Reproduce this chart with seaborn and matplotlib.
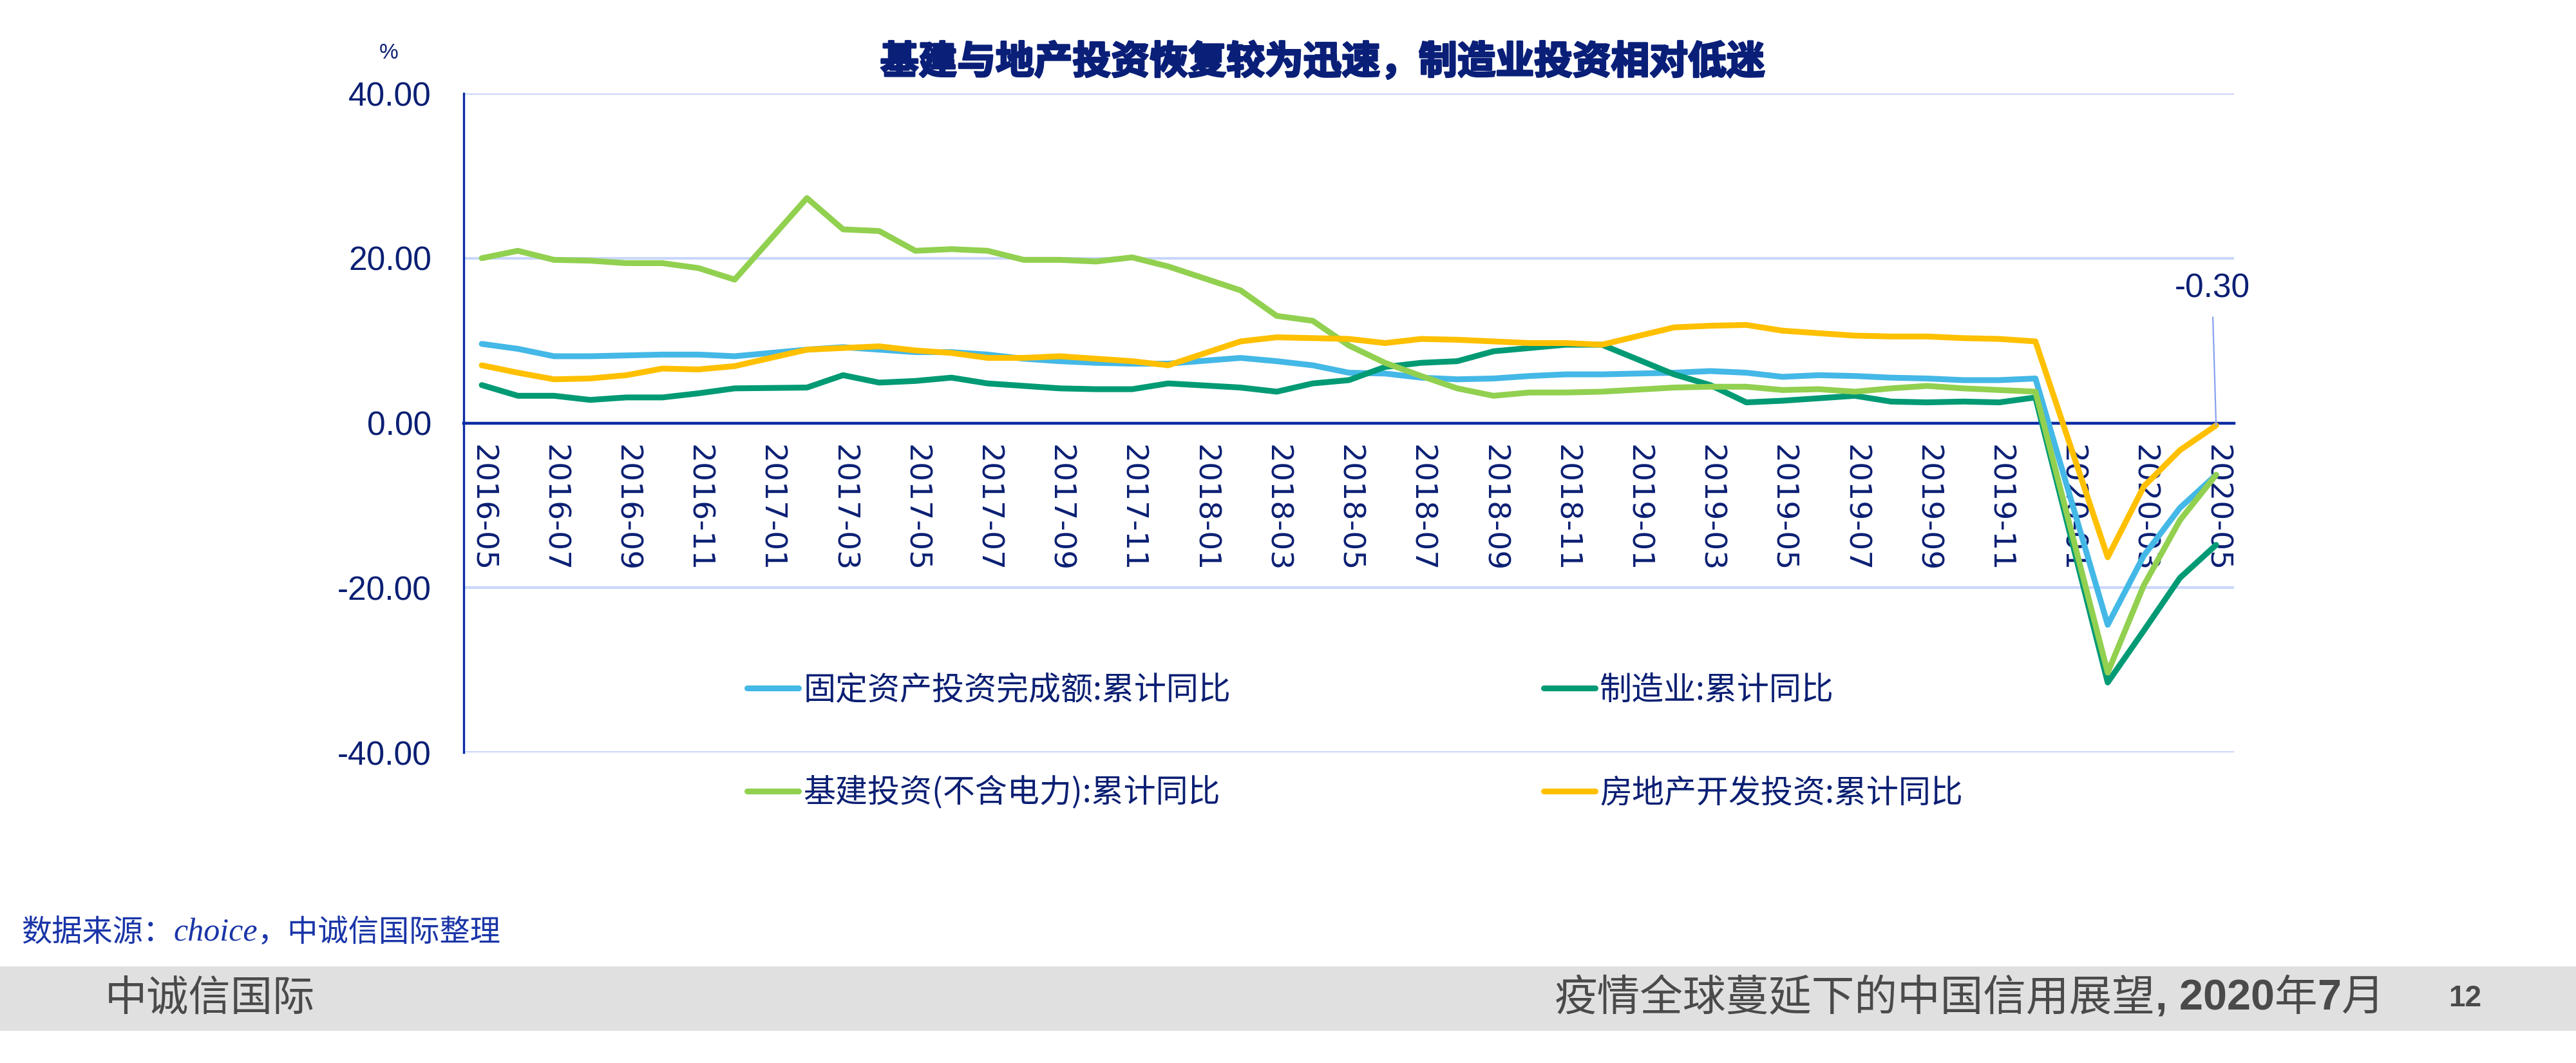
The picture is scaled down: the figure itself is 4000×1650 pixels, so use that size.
import numpy as np
import pandas as pd
import matplotlib
matplotlib.use("Agg")
import matplotlib.pyplot as plt
import matplotlib.patheffects as pe
from matplotlib.lines import Line2D
from matplotlib.patches import Rectangle
from matplotlib.ticker import FixedLocator, FormatStrFormatter
import seaborn as sns

# monthly cumulative YoY (%), January not published
months = ["2016-05", "2016-06", "2016-07", "2016-08", "2016-09", "2016-10", "2016-11", "2016-12",
          "2017-02", "2017-03", "2017-04", "2017-05", "2017-06", "2017-07", "2017-08", "2017-09",
          "2017-10", "2017-11", "2017-12",
          "2018-02", "2018-03", "2018-04", "2018-05", "2018-06", "2018-07", "2018-08", "2018-09",
          "2018-10", "2018-11", "2018-12",
          "2019-02", "2019-03", "2019-04", "2019-05", "2019-06", "2019-07", "2019-08", "2019-09",
          "2019-10", "2019-11", "2019-12",
          "2020-02", "2020-03", "2020-04", "2020-05"]

fai = [9.6, 9.0, 8.1, 8.1, 8.2, 8.3, 8.3, 8.1,
       8.9, 9.2, 8.9, 8.6, 8.6, 8.3, 7.8, 7.5, 7.3, 7.2, 7.2,
       7.9, 7.5, 7.0, 6.1, 6.0, 5.5, 5.3, 5.4, 5.7, 5.9, 5.9,
       6.1, 6.3, 6.1, 5.6, 5.8, 5.7, 5.5, 5.4, 5.2, 5.2, 5.4,
       -24.5, -16.1, -10.3, -6.3]
manufacturing = [4.6, 3.3, 3.3, 2.8, 3.1, 3.1, 3.6, 4.2,
                 4.3, 5.8, 4.9, 5.1, 5.5, 4.8, 4.5, 4.2, 4.1, 4.1, 4.8,
                 4.3, 3.8, 4.8, 5.2, 6.8, 7.3, 7.5, 8.7, 9.1, 9.5, 9.5,
                 5.9, 4.6, 2.5, 2.7, 3.0, 3.3, 2.6, 2.5, 2.6, 2.5, 3.1,
                 -31.5, -25.2, -18.8, -14.8]
infrastructure = [20.0, 20.9, 19.8, 19.7, 19.4, 19.4, 18.8, 17.4,
                  27.3, 23.5, 23.3, 20.9, 21.1, 20.9, 19.8, 19.8, 19.6, 20.1, 19.0,
                  16.1, 13.0, 12.4, 9.4, 7.3, 5.7, 4.2, 3.3, 3.7, 3.7, 3.8,
                  4.3, 4.4, 4.4, 4.0, 4.1, 3.8, 4.2, 4.5, 4.2, 4.0, 3.8,
                  -30.3, -19.7, -11.8, -6.3]
real_estate = [7.0, 6.1, 5.3, 5.4, 5.8, 6.6, 6.5, 6.9,
               8.9, 9.1, 9.3, 8.8, 8.5, 7.9, 7.9, 8.1, 7.8, 7.5, 7.0,
               9.9, 10.4, 10.3, 10.2, 9.7, 10.2, 10.1, 9.9, 9.7, 9.7, 9.5,
               11.6, 11.8, 11.9, 11.2, 10.9, 10.6, 10.5, 10.5, 10.3, 10.2, 9.9,
               -16.3, -7.7, -3.3, -0.3]

series_names = ["固定资产投资完成额:累计同比", "制造业:累计同比",
                "基建投资(不含电力):累计同比", "房地产开发投资:累计同比"]
series_colors = ["#44b8e6", "#009a74", "#92d050", "#ffc000"]

tick_labels = ["2016-05", "2016-07", "2016-09", "2016-11", "2017-01", "2017-03", "2017-05",
               "2017-07", "2017-09", "2017-11", "2018-01", "2018-03", "2018-05", "2018-07",
               "2018-09", "2018-11", "2019-01", "2019-03", "2019-05", "2019-07", "2019-09",
               "2019-11", "2020-01", "2020-03", "2020-05"]
ytick_values = [-40, -20, 0, 20, 40]

title = "基建与地产投资恢复较为迅速，制造业投资相对低迷"
source_parts = ["数据来源：", "choice", "，中诚信国际整理"]
footer_left = "中诚信国际"
footer_parts = ["疫情全球蔓延下的中国信用展望", ", 2020", "年", "7", "月"]
page_no = "12"

NAVY = "#0b1f73"
AXIS_BLUE = "#0a2ba3"
GRID = "#cad7fb"
FOOT_GRAY = "#4a4a4a"
LATIN = ["Liberation Sans", "DejaVu Sans"]


def month_pos(m):
    return (pd.Period(m, freq="M") - pd.Period(months[0], freq="M")).n


def make_frame():
    pos = [month_pos(m) for m in months]
    frames = []
    for name, vals in zip(series_names, [fai, manufacturing, infrastructure, real_estate]):
        frames.append(pd.DataFrame({"pos": pos, "value": vals, "series": name}))
    return pd.concat(frames, ignore_index=True)


def chain(ax, prev, pieces):
    # place each piece right after the previous text
    for s, kw in pieces:
        prev = ax.annotate(s, xy=(1, 0.5), xycoords=prev, ha="left", va="center",
                           annotation_clip=False, **kw)
    return prev


def main():
    df = make_frame()

    sns.set_style("white")
    plt.rcParams["font.family"] = ["Noto Sans CJK SC", "DejaVu Sans"]
    plt.rcParams["axes.unicode_minus"] = False

    fig = plt.figure(figsize=(40, 16.5), dpi=100)
    ax = fig.add_axes([0.18, 0.2921, 0.6873, 0.62])

    sns.lineplot(data=df, x="pos", y="value", hue="series", hue_order=series_names,
                 palette=series_colors, linewidth=6.5, estimator=None, legend=False, ax=ax)
    for line in ax.lines:
        line.set_zorder(3)
        line.set_solid_joinstyle("round")
        line.set_solid_capstyle("round")

    n_cat = month_pos(months[-1]) + 1
    ax.set_xlim(-0.5, n_cat - 0.5)
    ax.set_ylim(-40, 40)
    ax.set_xlabel("")
    ax.set_ylabel("")

    # y axis
    ax.set_yticks(ytick_values)
    ax.yaxis.set_major_formatter(FormatStrFormatter("%.2f"))
    ax.tick_params(axis="y", direction="out", length=12, width=2.4, color=AXIS_BLUE,
                   pad=24, labelsize=37, labelcolor=NAVY)
    for lab in ax.get_yticklabels():
        lab.set_family(LATIN)
    ax.yaxis.grid(True, color=GRID, linewidth=3.0)
    ax.xaxis.grid(False)
    ax.set_axisbelow(True)

    # category axis crossing at zero
    ax.spines["bottom"].set_position(("data", 0))
    ax.spines["bottom"].set_color(AXIS_BLUE)
    ax.spines["bottom"].set_linewidth(3.2)
    ax.spines["left"].set_color(AXIS_BLUE)
    ax.spines["left"].set_linewidth(2.4)
    ax.spines["top"].set_visible(False)
    ax.spines["right"].set_visible(False)

    ax.xaxis.set_major_locator(FixedLocator([month_pos(t) for t in tick_labels]))
    ax.set_xticklabels(tick_labels, rotation=-90, family="DejaVu Sans")
    ax.xaxis.set_minor_locator(FixedLocator(np.arange(1.5, n_cat - 1, 2)))
    ax.tick_params(axis="x", which="major", length=0, pad=24, labelsize=34, labelcolor=NAVY)
    ax.tick_params(axis="x", which="minor", direction="out", length=12, width=2.4,
                   color=AXIS_BLUE)
    for lab in ax.get_xticklabels():
        lab.set_verticalalignment("top")
        lab.set_horizontalalignment("center")

    # end-point label
    ax.annotate("-0.30", xy=(month_pos(months[-1]), real_estate[-1]),
                xytext=(n_cat - 1.1, 16.3), ha="center", va="center",
                fontsize=37, family=LATIN, color=NAVY,
                arrowprops=dict(arrowstyle="-", color="#86a2f0", lw=1.6,
                                shrinkA=12, shrinkB=0, relpos=(0.5, 0)))

    # legend, filled row by row
    handles = [Line2D([0], [0], color=c, lw=6.5, solid_capstyle="round") for c in series_colors]
    order = [0, 2, 1, 3]
    ax.legend([handles[i] for i in order], [series_names[i] for i in order],
              ncol=2, loc="center", bbox_to_anchor=(0.526, 0.302),
              bbox_transform=fig.transFigure, frameon=False, fontsize=36,
              labelcolor=NAVY, handlelength=1.6, handletextpad=0.15,
              columnspacing=9.7, labelspacing=2.15)

    # titles and notes
    title_color = "#0a1f78"
    fig.text(0.5135, 0.941, title, ha="center", va="center", fontsize=43,
             fontweight="heavy", color=title_color,
             path_effects=[pe.withStroke(linewidth=2.2, foreground=title_color)])
    fig.text(0.151, 0.950, "%", ha="center", va="center", fontsize=24, color=NAVY,
             family=LATIN)

    src_color = "#1a35a8"
    s0 = fig.text(0.0083, 0.1224, source_parts[0], ha="left", va="center", fontsize=34,
                  style="italic", color=src_color)
    chain(ax, s0, [(source_parts[1], dict(fontsize=36, style="italic", color=src_color,
                                          family=["Liberation Serif", "DejaVu Serif"])),
                   (source_parts[2], dict(fontsize=34, style="italic", color=src_color))])

    # footer band
    fig.patches.append(Rectangle((0, 0.0303), 1, 0.0606, transform=fig.transFigure,
                                 facecolor="#e0e0e0", edgecolor="none", zorder=-1))
    fig.text(0.0408, 0.0606, footer_left, ha="left", va="center", fontsize=47, color=FOOT_GRAY)
    f0 = fig.text(0.6035, 0.0606, footer_parts[0], ha="left", va="center",
                  fontsize=48, color=FOOT_GRAY)
    chain(ax, f0, [(footer_parts[1], dict(fontsize=48, fontweight="bold", color=FOOT_GRAY,
                                          family=LATIN)),
                   (footer_parts[2], dict(fontsize=48, color=FOOT_GRAY)),
                   (footer_parts[3], dict(fontsize=48, fontweight="bold", color=FOOT_GRAY,
                                          family=LATIN)),
                   (footer_parts[4], dict(fontsize=48, color=FOOT_GRAY))])
    fig.text(0.957, 0.0606, page_no, ha="center", va="center", fontsize=33,
             fontweight="bold", color=FOOT_GRAY, family=LATIN)

    fig.savefig("out.png", dpi=100, facecolor="white")


if __name__ == "__main__":
    main()
